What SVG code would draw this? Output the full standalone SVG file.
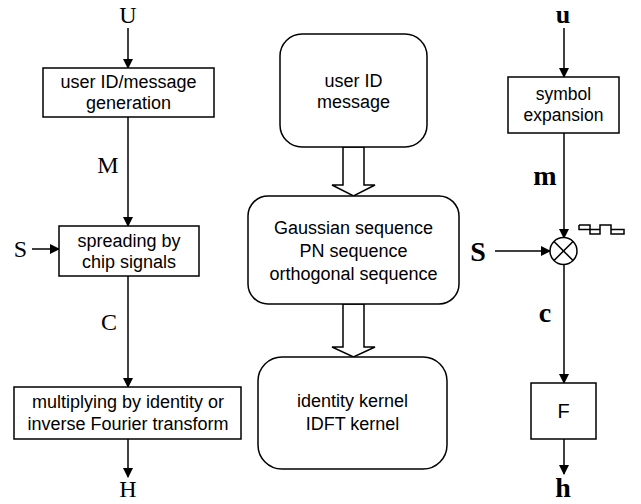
<svg xmlns="http://www.w3.org/2000/svg" width="641" height="504" viewBox="0 0 641 504">
<defs>
<style>
.box{fill:#fff;stroke:#000;stroke-width:1.5}
.rbox{fill:#fff;stroke:#000;stroke-width:1.5}
.t{font-family:"Liberation Sans",Arial,sans-serif;font-size:18px;fill:#000;text-anchor:middle}
.ts{font-family:"Liberation Sans",Arial,sans-serif;font-size:17.5px;fill:#000;text-anchor:middle}
.tf{font-family:"Liberation Sans",Arial,sans-serif;font-size:20px;fill:#000;text-anchor:middle}
.v{font-family:"Liberation Serif","Times New Roman",serif;font-size:24px;fill:#000;text-anchor:middle}
.vb{font-family:"Liberation Serif","Times New Roman",serif;font-size:28px;font-weight:bold;fill:#000;text-anchor:middle}
.ln{stroke:#000;stroke-width:1.5;fill:none}
.hol{fill:#fff;stroke:#000;stroke-width:1.5}
</style>
<marker id="ah" markerWidth="10" markerHeight="10" refX="9" refY="5" orient="auto" markerUnits="userSpaceOnUse">
<path d="M0,0 L10,5 L0,10 z" fill="#000"/>
</marker>
</defs>
<rect width="641" height="504" fill="#fff"/>

<g id="connectors">
<line class="ln" x1="128" y1="28" x2="128" y2="68" marker-end="url(#ah)"/>
<line class="ln" x1="128" y1="117" x2="128" y2="226" marker-end="url(#ah)"/>
<line class="ln" x1="32" y1="249" x2="59" y2="249" marker-end="url(#ah)"/>
<line class="ln" x1="128" y1="276" x2="128" y2="387" marker-end="url(#ah)"/>
<line class="ln" x1="128" y1="439" x2="128" y2="477" marker-end="url(#ah)"/>
<polygon class="hol" points="343,147 364,147 364,185 375,185 353.5,196 332,185 343,185"/>
<polygon class="hol" points="343,304 364,304 364,347 375,347 353.5,357 332,347 343,347"/>
<line class="ln" x1="564" y1="28" x2="564" y2="77" marker-end="url(#ah)"/>
<line class="ln" x1="564" y1="133" x2="564" y2="238" marker-end="url(#ah)"/>
<line class="ln" x1="495" y1="251" x2="550" y2="251" marker-end="url(#ah)"/>
<line class="ln" x1="564" y1="265" x2="564" y2="383" marker-end="url(#ah)"/>
<line class="ln" x1="564" y1="439" x2="564" y2="474" marker-end="url(#ah)"/>
</g>

<g id="label-U"><text class="v" x="128" y="23">U</text></g>
<g id="label-M"><text class="v" x="108" y="173">M</text></g>
<g id="label-S1"><text class="v" x="20.5" y="257">S</text></g>
<g id="label-C"><text class="v" x="109" y="330">C</text></g>
<g id="label-H"><text class="v" x="128" y="497">H</text></g>

<g id="node-gen">
<rect class="box" x="43" y="68" width="171" height="49"/>
<text class="t" x="128.5" y="88">user ID/message</text>
<text class="t" x="128.5" y="109">generation</text>
</g>
<g id="node-spread">
<rect class="box" x="59" y="226" width="140" height="50"/>
<text class="t" x="129" y="247">spreading by</text>
<text class="t" x="129" y="268">chip signals</text>
</g>
<g id="node-mult">
<rect class="box" x="14" y="387" width="227" height="52"/>
<text class="t" x="128" y="408">multiplying by identity or</text>
<text class="t" x="128" y="430">inverse Fourier transform</text>
</g>

<g id="node-userid">
<rect class="rbox" x="280" y="34" width="147" height="113" rx="22"/>
<text class="t" x="353.5" y="87">user ID</text>
<text class="t" x="353.5" y="108">message</text>
</g>
<g id="node-seq">
<rect class="rbox" x="248" y="196" width="211" height="108" rx="20"/>
<text class="t" x="353.5" y="234">Gaussian sequence</text>
<text class="t" x="353.5" y="257">PN sequence</text>
<text class="t" x="353.5" y="280">orthogonal sequence</text>
</g>
<g id="node-kernel">
<rect class="rbox" x="258" y="357" width="189" height="112" rx="24"/>
<text class="t" x="352.5" y="407">identity kernel</text>
<text class="t" x="352.5" y="430">IDFT kernel</text>
</g>

<g id="label-u"><text class="vb" x="563" y="23" style="font-size:26px">u</text></g>
<g id="label-m"><text class="vb" x="545" y="185">m</text></g>
<g id="label-s"><text class="vb" x="478" y="261">S</text></g>
<g id="label-c"><text class="vb" x="545" y="322">c</text></g>
<g id="label-h"><text class="vb" x="563" y="497">h</text></g>

<g id="node-symexp">
<rect class="box" x="508" y="77" width="111" height="56"/>
<text class="ts" x="563.5" y="100">symbol</text>
<text class="ts" x="563.5" y="121">expansion</text>
</g>
<g id="node-multiplier">
<circle cx="563.5" cy="251" r="13.5" fill="#fff" stroke="#000" stroke-width="1.5"/>
<line class="ln" x1="554" y1="241.5" x2="573" y2="260.5"/>
<line class="ln" x1="573" y1="241.5" x2="554" y2="260.5"/>
</g>
<g id="node-wave">
<path class="ln" stroke-width="1.2" d="M579,225 H590 V229.5 H600 V225 H611 V229.5 H624 V234 H611 V229.5 M600,229.5 V234 H590 V229.5 M579,225 V229.5 H590"/>
</g>
<g id="node-F">
<rect class="box" x="531" y="383" width="65" height="56"/>
<text class="tf" x="563.5" y="418">F</text>
</g>
</svg>
